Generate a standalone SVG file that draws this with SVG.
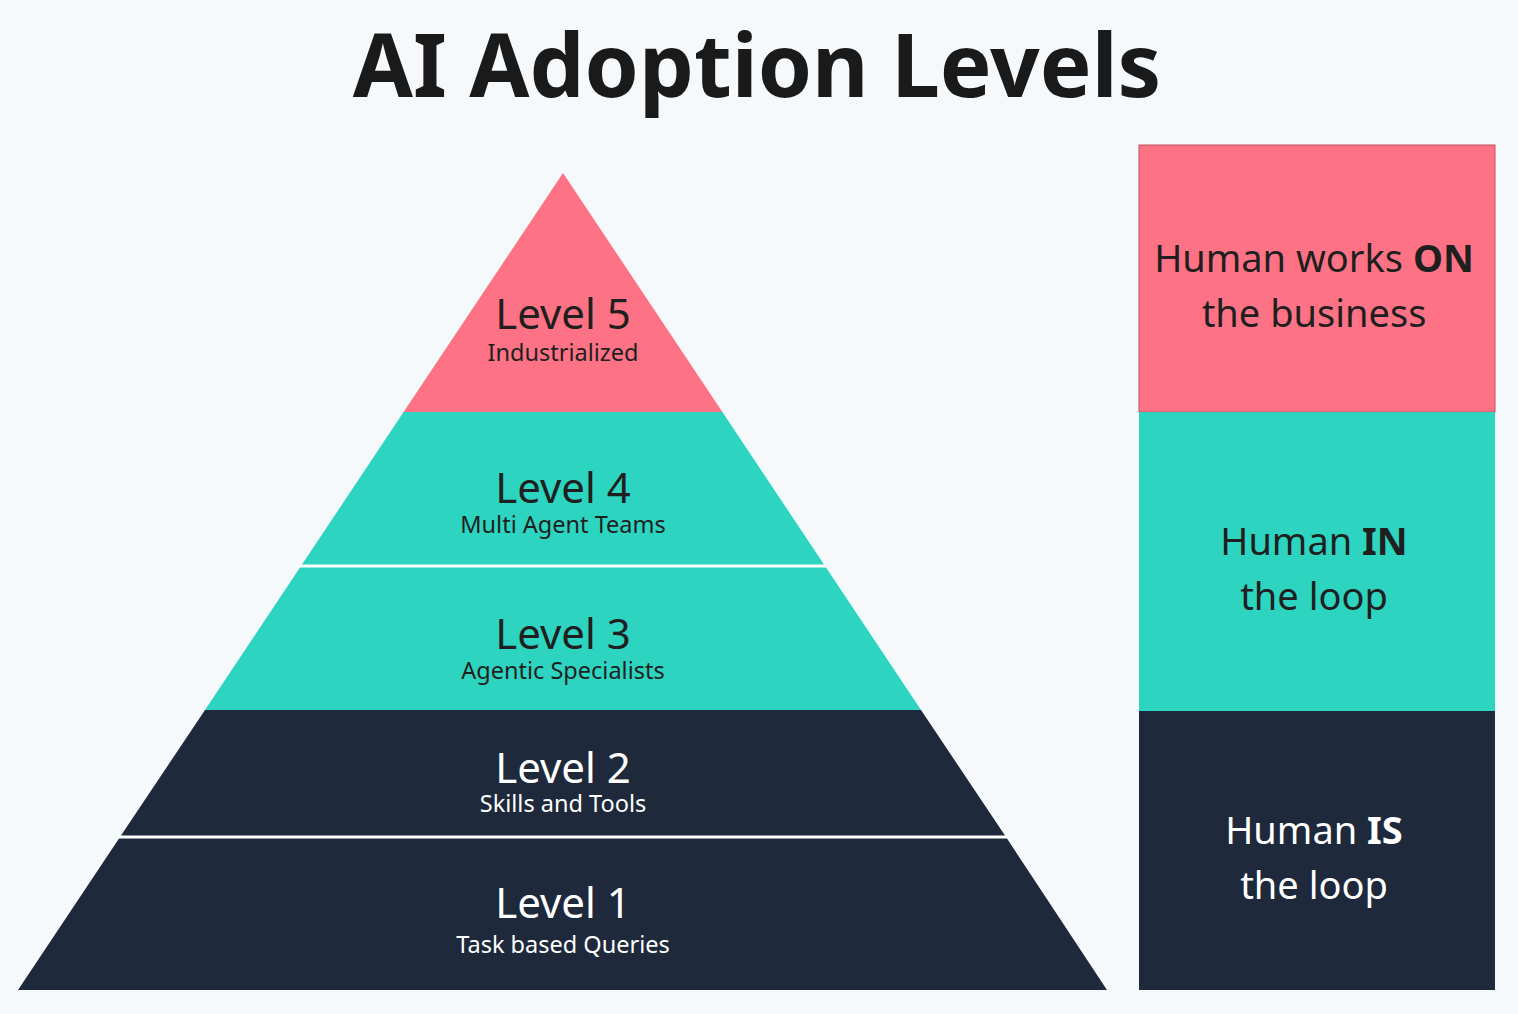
<svg xmlns="http://www.w3.org/2000/svg" width="1518" height="1014" viewBox="0 0 1518 1014">
<style>
text{font-family:"Noto Sans","Open Sans",sans-serif;text-anchor:middle}
.t{font-size:42px}.s{font-size:23.5px}.r{font-size:38px}
.dk{fill:#1f1f1f}.wt{fill:#ffffff}
.pink{fill:#fd7285}.teal{fill:#2dd4bf}.navy{fill:#1e293b}
</style>
<rect width="1518" height="1014" fill="#f5f9fc"/>
<text x="757" y="97" font-size="87" font-weight="bold" fill="#1a1a1a">AI Adoption Levels</text>
<g id="level5"><polygon class="pink" points="563,173 722.4,412 403.6,412"/><text class="t dk" x="563" y="329">Level 5</text><text class="s dk" x="563" y="361">Industrialized</text></g>
<g id="level4"><polygon class="teal" points="403.6,412 722.4,412 825,566 301,566"/><text class="t dk" x="563" y="503">Level 4</text><text class="s dk" x="563" y="533">Multi Agent Teams</text></g>
<g id="level3"><polygon class="teal" points="301,566 825,566 921,710 205,710"/><text class="t dk" x="563" y="649">Level 3</text><text class="s dk" x="563" y="679">Agentic Specialists</text></g>
<g id="level2"><polygon class="navy" points="205,710 921,710 1006,837 120,837"/><text class="t wt" x="563" y="783">Level 2</text><text class="s wt" x="563" y="812">Skills and Tools</text></g>
<g id="level1"><polygon class="navy" points="120,837 1006,837 1107,990 18,990"/><text class="t wt" x="563" y="918">Level 1</text><text class="s wt" x="563" y="953">Task based Queries</text></g>
<g id="dividers" stroke="#ffffff" stroke-width="3"><line x1="299" y1="566" x2="827" y2="566"/><line x1="118" y1="837" x2="1008" y2="837"/></g>
<g id="on"><rect class="pink" x="1139" y="145" width="356" height="267" stroke="#c0505f" stroke-width="1"/><text class="r dk" x="1314" y="272">Human works <tspan font-weight="bold">ON</tspan></text><text class="r dk" x="1314" y="327">the business</text></g>
<g id="in"><rect class="teal" x="1139" y="412" width="356" height="299"/><text class="r dk" x="1314" y="555">Human <tspan font-weight="bold">IN</tspan></text><text class="r dk" x="1314" y="610">the loop</text></g>
<g id="is"><rect class="navy" x="1139" y="711" width="356" height="279"/><text class="r wt" x="1314" y="844">Human <tspan font-weight="bold">IS</tspan></text><text class="r wt" x="1314" y="899">the loop</text></g>
</svg>
